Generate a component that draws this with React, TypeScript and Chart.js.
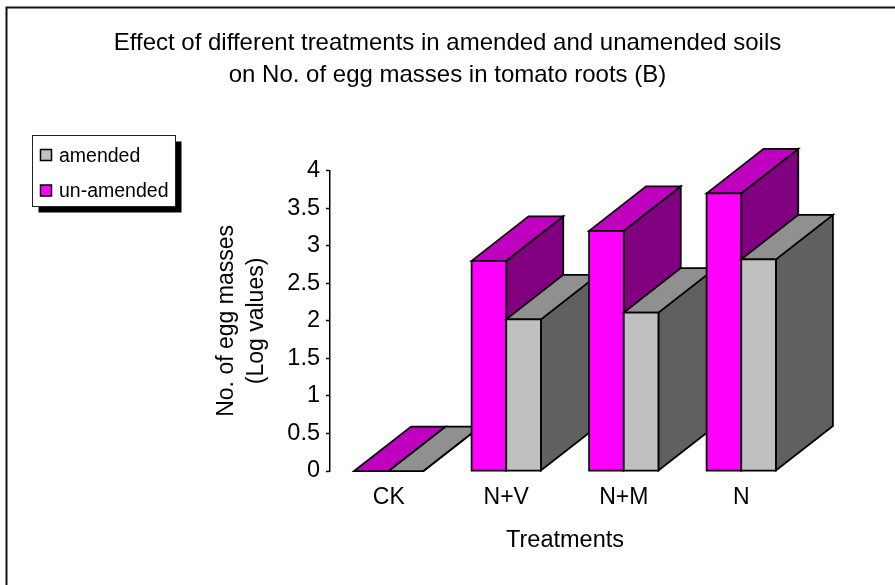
import React, { useEffect, useRef } from "react";
import { Chart, registerables } from "chart.js";

Chart.register(...registerables);

const categories = ["CK", "N+V", "N+M", "N"];
const amended = [0, 2.02, 2.11, 2.82];
const unAmended = [0, 2.8, 3.2, 3.7];
const yTicks = [0, 0.5, 1, 1.5, 2, 2.5, 3, 3.5, 4];
const chartTitle = [
  "Effect of different treatments in amended and unamended soils",
  "on No. of egg masses in tomato roots (B)",
];
const yTitle = ["No. of egg masses", "(Log values)"];
const xTitle = "Treatments";

const FONT = "'Liberation Sans', Arial, sans-serif";
const DEPTH_X = 57;
const DEPTH_Y = 44.5;

const faceColors: Record<string, { front: string; top: string; side: string }> = {
  amended: { front: "#C0C0C0", top: "#909090", side: "#606060" },
  "un-amended": { front: "#FF00FF", top: "#BF00BF", side: "#800080" },
};

function poly(ctx: CanvasRenderingContext2D, pts: number[][], fill: string) {
  ctx.beginPath();
  pts.forEach((p, i) => (i ? ctx.lineTo(p[0], p[1]) : ctx.moveTo(p[0], p[1])));
  ctx.closePath();
  ctx.fillStyle = fill;
  ctx.fill();
  ctx.stroke();
}

const framePlugin = {
  id: "frame",
  beforeDraw(chart: any) {
    const { ctx, width, height } = chart;
    ctx.save();
    ctx.strokeStyle = "#111";
    ctx.lineWidth = 2;
    ctx.beginPath();
    ctx.moveTo(6.5, height);
    ctx.lineTo(6.5, 7.5);
    ctx.lineTo(width, 7.5);
    ctx.stroke();
    ctx.restore();
  },
};

const bars3dPlugin = {
  id: "bars3d",
  afterDatasetsDraw(chart: any) {
    const { ctx } = chart;
    ctx.save();
    ctx.strokeStyle = "#000";
    ctx.lineWidth = 1.75;
    ctx.lineJoin = "miter";
    categories.forEach((_, i) => {
      chart.data.datasets.forEach((ds: any, d: number) => {
        const bar = chart.getDatasetMeta(d).data[i];
        const c = faceColors[ds.label];
        const l = bar.x - bar.width / 2;
        const r = bar.x + bar.width / 2;
        const t = bar.y;
        const b = bar.base;
        poly(ctx, [[r, t], [r + DEPTH_X, t - DEPTH_Y], [r + DEPTH_X, b - DEPTH_Y], [r, b]], c.side);
        poly(ctx, [[l, t], [l + DEPTH_X, t - DEPTH_Y], [r + DEPTH_X, t - DEPTH_Y], [r, t]], c.top);
        if (b - t > 0.5) poly(ctx, [[l, t], [r, t], [r, b], [l, b]], c.front);
      });
    });
    ctx.restore();
  },
};

const legendPlugin = {
  id: "boxLegend",
  afterDraw(chart: any) {
    const { ctx } = chart;
    const items = [...chart.data.datasets].reverse();
    const x = 32.5;
    const y = 135.5;
    const w = 143;
    const h = 71;
    ctx.save();
    ctx.fillStyle = "#000";
    ctx.fillRect(x + 6, y + 6, w, h);
    ctx.fillStyle = "#fff";
    ctx.strokeStyle = "#222";
    ctx.lineWidth = 1;
    ctx.fillRect(x, y, w, h);
    ctx.strokeRect(x, y, w, h);
    ctx.font = `19.5px ${FONT}`;
    ctx.textBaseline = "middle";
    items.forEach((ds: any, i: number) => {
      const cy = 155 + i * 35.5;
      ctx.fillStyle = faceColors[ds.label].front;
      ctx.strokeStyle = "#000";
      ctx.lineWidth = 1.5;
      ctx.fillRect(40.5, cy - 5.5, 11, 11);
      ctx.strokeRect(40.5, cy - 5.5, 11, 11);
      ctx.fillStyle = "#000";
      ctx.fillText(ds.label, 59, cy + 1.5);
    });
    ctx.restore();
  },
};

export default function App() {
  const ref = useRef<HTMLCanvasElement>(null);
  useEffect(() => {
    const chart = new Chart(ref.current!, {
      type: "bar",
      data: {
        labels: categories,
        datasets: [
          { label: "un-amended", data: unAmended, backgroundColor: faceColors["un-amended"].front },
          { label: "amended", data: amended, backgroundColor: faceColors.amended.front },
        ],
      },
      plugins: [framePlugin, bars3dPlugin, legendPlugin],
      options: {
        animation: false,
        responsive: false,
        devicePixelRatio: 1,
        layout: { padding: { left: 95, right: 95, top: 0, bottom: 0 } },
        datasets: { bar: { categoryPercentage: 0.59, barPercentage: 1 } },
        plugins: {
          legend: { display: false },
          tooltip: { enabled: false },
          title: {
            display: true,
            text: chartTitle,
            color: "#000",
            font: { family: FONT, size: 24, weight: "normal", lineHeight: 1.33 },
            padding: { top: 27, bottom: 80 },
          },
        },
        scales: {
          x: {
            grid: { display: false },
            border: { display: false },
            ticks: { color: "#000", font: { family: FONT, size: 23 }, padding: 5, maxRotation: 0 },
            title: {
              display: true,
              text: xTitle,
              color: "#000",
              font: { family: FONT, size: 23.5 },
              padding: { top: 0, bottom: 30 },
            },
            afterFit(s: any) {
              s.height = 114;
            },
          },
          y: {
            min: 0,
            max: 4,
            afterBuildTicks(s: any) {
              s.ticks = yTicks.map((value) => ({ value }));
            },
            grid: { drawOnChartArea: false, tickLength: 4, tickColor: "#000", tickWidth: 1.5 },
            border: { display: true, color: "#000", width: 1.5 },
            ticks: {
              color: "#000",
              font: { family: FONT, size: 23.5 },
              padding: 6,
              callback: (v: any) => String(v),
            },
            title: {
              display: true,
              text: yTitle,
              color: "#000",
              font: { family: FONT, size: 23, lineHeight: 1.3 },
              padding: { top: 117, bottom: 0 },
            },
            afterFit(s: any) {
              s.width = 235;
            },
          },
        },
      },
    } as any);
    return () => chart.destroy();
  }, []);
  return (
    <canvas
      ref={ref}
      width={895}
      height={585}
      style={{ position: "absolute", left: 0, top: 0, width: 895, height: 585 }}
    />
  );
}
